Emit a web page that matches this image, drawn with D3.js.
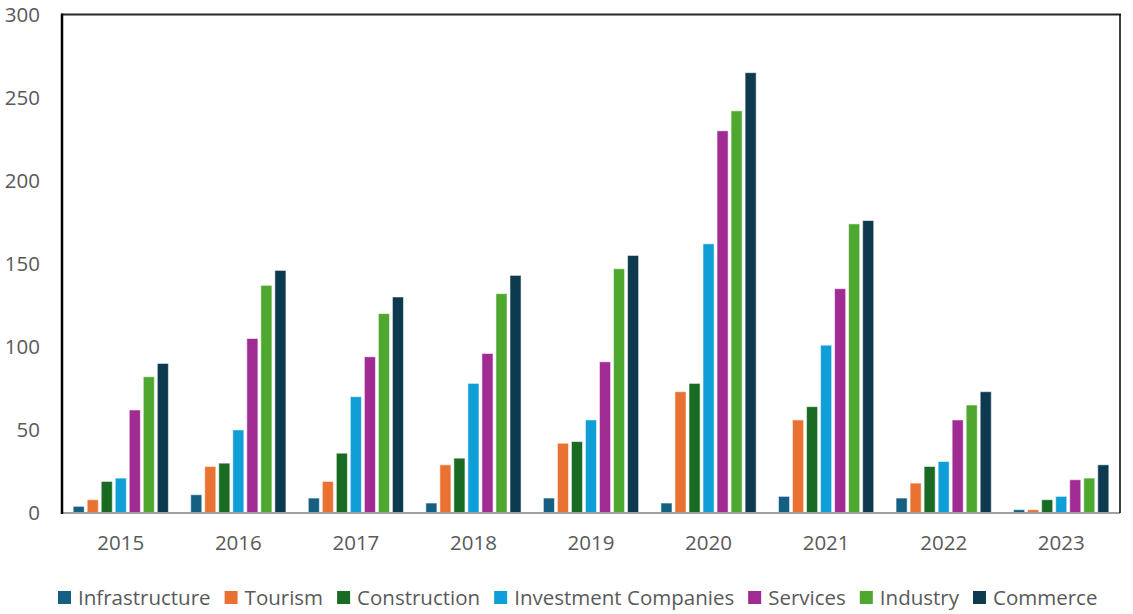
<!DOCTYPE html>
<html>
<head>
<meta charset="utf-8">
<script src="https://cdn.jsdelivr.net/npm/d3@7"></script>
<style>
  html, body { margin: 0; padding: 0; background: #fff; }
  svg { display: block; font-family: "Open Sans", "Noto Sans", sans-serif; }
</style>
</head>
<body>
<svg id="chart" width="1133" height="614"></svg>
<script>
// Years on the x axis
const years = ["2015", "2016", "2017", "2018", "2019", "2020", "2021", "2022", "2023"];

// Sector series, one value per year
const sectors = ["Infrastructure", "Tourism", "Construction", "Investment Companies", "Services", "Industry", "Commerce"];
const infrastructure = [4, 11, 9, 6, 9, 6, 10, 9, 2];
const tourism        = [8, 28, 19, 29, 42, 73, 56, 18, 2];
const construction   = [19, 30, 36, 33, 43, 78, 64, 28, 8];
const investment     = [21, 50, 70, 78, 56, 162, 101, 31, 10];
const services       = [62, 105, 94, 96, 91, 230, 135, 56, 20];
const industry       = [82, 137, 120, 132, 147, 242, 174, 65, 21];
const commerce       = [90, 146, 130, 143, 155, 265, 176, 73, 29];

const yTicks = [0, 50, 100, 150, 200, 250, 300];
const colors = ["#156082", "#e97132", "#196b24", "#0f9ed5", "#a02b93", "#4ea72e", "#0e3a4f"];

const seriesValues = [infrastructure, tourism, construction, investment, services, industry, commerce];
const rows = years.map((yr, i) => ({
  year: yr,
  values: sectors.map((s, k) => ({ sector: s, value: seriesValues[k][i] }))
}));

const svg = d3.select("#chart");
const plot = { left: 62, right: 1120, top: 14.5, bottom: 513 };
const fontFamily = "'Open Sans', sans-serif";

const x0 = d3.scaleBand().domain(years).range([plot.left, plot.right])
  .paddingInner(0.19).paddingOuter(0.095);
const x1 = d3.scaleBand().domain(sectors).range([0, x0.bandwidth()]).paddingInner(0.21);
const y = d3.scaleLinear().domain([0, 300]).range([plot.bottom, plot.top]);
const color = d3.scaleOrdinal().domain(sectors).range(colors);

// Bars
const groups = svg.append("g").selectAll("g").data(rows).join("g")
  .attr("transform", d => `translate(${x0(d.year)},0)`);
groups.selectAll("rect").data(d => d.values).join("rect")
  .attr("x", d => x1(d.sector))
  .attr("y", d => y(d.value))
  .attr("width", x1.bandwidth())
  .attr("height", d => y(0) - y(d.value))
  .attr("fill", d => color(d.sector))
  .attr("stroke", "#ffffff")
  .attr("stroke-opacity", 0.55)
  .attr("stroke-width", 1);

// Y axis labels
const yAxis = d3.axisLeft(y).tickValues(yTicks).tickSize(0).tickPadding(22);
const gy = svg.append("g").attr("transform", `translate(${plot.left},0)`).call(yAxis);
gy.select(".domain").remove();
gy.selectAll("text").attr("fill", "#595959").attr("font-size", 20.5)
  .attr("font-family", fontFamily);

// X axis labels
const xAxis = d3.axisBottom(x0).tickSize(0).tickPadding(22);
const gx = svg.append("g").attr("transform", `translate(0,${plot.bottom})`).call(xAxis);
gx.select(".domain").remove();
gx.selectAll("text").attr("fill", "#595959").attr("font-size", 20.5)
  .attr("font-family", fontFamily);

// Frame around the plot
svg.append("line").attr("x1", plot.left).attr("x2", plot.right)
  .attr("y1", y(0)).attr("y2", y(0)).attr("stroke", "#a0a0a0").attr("stroke-width", 2);
svg.append("line").attr("x1", plot.left).attr("x2", plot.right + 1)
  .attr("y1", plot.top).attr("y2", plot.top).attr("stroke", "#262626").attr("stroke-width", 2);
svg.append("line").attr("x1", plot.right).attr("x2", plot.right)
  .attr("y1", plot.top).attr("y2", y(0)).attr("stroke", "#000").attr("stroke-width", 1.5);
svg.append("line").attr("x1", plot.left).attr("x2", plot.left)
  .attr("y1", plot.top - 1).attr("y2", y(0) + 1).attr("stroke", "#000").attr("stroke-width", 2.5);

// Legend
const legend = svg.append("g").attr("transform", "translate(58,0)");
let lx = 0;
sectors.forEach((s, i) => {
  const item = legend.append("g").attr("transform", `translate(${lx},0)`);
  item.append("rect").attr("x", 0).attr("y", 591).attr("width", 13).attr("height", 13)
    .attr("fill", colors[i]);
  const t = item.append("text").attr("x", 20).attr("y", 605)
    .attr("fill", "#595959").attr("font-size", 20.5)
    .attr("font-family", fontFamily).text(s);
  lx += 20 + t.node().getComputedTextLength() + 14;
});
</script>
</body>
</html>
